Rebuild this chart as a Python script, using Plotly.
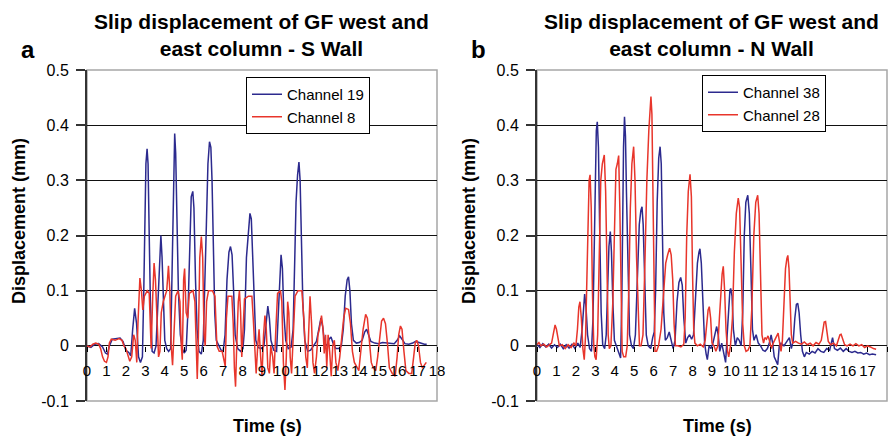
import plotly.graph_objects as go

# ---------------- data (time s, displacement mm) ----------------
time_ticks = list(range(0, 19))
disp_ticks = [-0.1, 0, 0.1, 0.2, 0.3, 0.4, 0.5]
disp_tick_text = ["-0.1", "0", "0.1", "0.2", "0.3", "0.4", "0.5"]

titles = ["Slip displacement of GF west and<br>east column - S Wall",
          "Slip displacement of GF west and<br>east column - N Wall"]
panel_letters = ["a", "b"]
series_names = [["Channel 19", "Channel 8"], ["Channel 38", "Channel 28"]]

# Panel a, Channel 19
ch19 = [(0,0),(0.2,-0.003),(0.4,0.003),(0.6,0.004),(0.8,-0.002),(0.95,-0.013),(1.05,-0.015),(1.15,0.0),
        (1.3,0.012),(1.5,0.013),(1.7,0.014),(1.85,0.008),(2.0,-0.008),(2.15,-0.012),(2.25,-0.018),(2.35,0.03),
        (2.45,0.068),(2.55,0.04),(2.65,-0.02),(2.75,-0.03),(2.85,-0.02),(2.92,0.1),(2.97,0.2),(3.03,0.33),
        (3.09,0.357),(3.14,0.33),(3.2,0.2),(3.26,0.08),(3.35,-0.01),(3.45,-0.013),(3.55,0.0),(3.65,0.08),
        (3.72,0.15),(3.8,0.2),(3.86,0.16),(3.92,0.08),(4.0,0.01),(4.1,-0.005),(4.2,-0.01),(4.3,-0.005),
        (4.36,0.12),(4.41,0.25),(4.47,0.37),(4.51,0.385),(4.56,0.35),(4.62,0.25),(4.7,0.1),(4.8,0.02),
        (4.9,-0.005),(5.0,-0.013),(5.1,-0.008),(5.2,0.07),(5.28,0.2),(5.36,0.27),(5.44,0.28),(5.5,0.25),
        (5.58,0.12),(5.66,0.03),(5.76,-0.01),(5.88,-0.015),(5.98,0.01),(6.06,0.1),(6.14,0.22),(6.22,0.33),
        (6.3,0.37),(6.37,0.36),(6.43,0.3),(6.5,0.18),(6.57,0.06),(6.65,0.01),(6.78,0.0),(6.9,-0.008),
        (7.0,-0.01),(7.1,0.02),(7.2,0.12),(7.3,0.17),(7.38,0.18),(7.46,0.165),(7.54,0.1),(7.62,0.02),
        (7.75,-0.005),(7.9,-0.01),(8.02,-0.005),(8.1,0.03),(8.2,0.16),(8.3,0.21),(8.38,0.24),(8.45,0.23),
        (8.52,0.17),(8.6,0.08),(8.68,0.01),(8.8,-0.003),(8.95,-0.005),(9.1,0.0),(9.2,0.04),(9.3,0.072),
        (9.38,0.05),(9.46,0.01),(9.6,-0.008),(9.75,-0.01),(9.84,0.06),(9.92,0.14),(9.98,0.165),(10.05,0.14),
        (10.12,0.06),(10.22,0.01),(10.35,-0.005),(10.5,-0.002),(10.6,0.03),(10.68,0.15),(10.75,0.26),
        (10.83,0.31),(10.9,0.333),(10.96,0.3),(11.02,0.2),(11.1,0.08),(11.2,0.01),(11.35,-0.01),(11.5,-0.008),
        (11.65,0.0),(11.8,0.008),(11.92,0.03),(12.03,0.05),(12.12,0.035),(12.22,0.005),(12.35,0.0),
        (12.45,0.012),(12.55,0.016),(12.65,0.005),(12.8,-0.005),(12.95,-0.005),(13.08,0.0),(13.18,0.03),
        (13.28,0.09),(13.38,0.12),(13.45,0.125),(13.52,0.1),(13.6,0.04),(13.7,0.01),(13.85,0.005),(14.0,0.006),
        (14.15,0.01),(14.28,0.025),(14.38,0.03),(14.48,0.02),(14.6,0.008),(14.8,0.005),(15.0,0.004),
        (15.2,0.006),(15.4,0.005),(15.6,0.004),(15.8,0.004),(15.95,0.01),(16.08,0.018),(16.2,0.012),
        (16.35,0.004),(16.55,0.003),(16.75,0.005),(16.9,0.008),(17.05,0.006),(17.2,0.004),(17.35,0.003),
        (17.47,0.003)]

# Panel a, Channel 8
ch8 = [(0,0),(0.15,-0.002),(0.3,0.003),(0.45,0.005),(0.6,0.003),(0.7,-0.005),(0.8,-0.02),(0.9,-0.028),
       (1.0,-0.03),(1.08,-0.02),(1.15,0.005),(1.25,0.012),(1.45,0.01),(1.65,0.013),(1.8,0.01),(1.9,0.0),
       (2.0,-0.005),(2.1,-0.015),(2.2,-0.028),(2.3,-0.02),(2.4,0.02),(2.48,0.01),(2.56,-0.03),(2.62,0.04),
       (2.68,0.115),(2.72,0.123),(2.8,0.1),(2.87,0.065),(2.95,0.09),(3.1,0.1),(3.2,0.095),(3.26,0.03),
       (3.3,-0.005),(3.38,0.09),(3.45,0.15),(3.52,0.12),(3.6,0.04),(3.68,-0.02),(3.75,-0.01),(3.82,0.06),
       (3.92,0.08),(4.02,0.09),(4.1,0.1),(4.19,0.145),(4.26,0.1),(4.33,0.0),(4.4,-0.035),(4.47,0.02),
       (4.56,0.09),(4.68,0.1),(4.78,0.08),(4.85,0.0),(4.9,-0.025),(4.97,0.12),(5.02,0.14),(5.1,0.06),
       (5.18,0.05),(5.26,0.095),(5.45,0.1),(5.55,0.08),(5.62,-0.01),(5.67,-0.06),(5.72,0.0),(5.8,0.16),
       (5.88,0.198),(5.95,0.16),(6.02,0.02),(6.08,0.0),(6.15,0.08),(6.25,0.1),(6.45,0.1),(6.58,0.09),
       (6.68,0.0),(6.8,-0.01),(6.95,-0.01),(7.05,-0.03),(7.11,-0.037),(7.17,0.05),(7.25,0.09),(7.45,0.09),
       (7.52,0.04),(7.58,-0.04),(7.64,-0.074),(7.7,0.0),(7.78,0.08),(7.84,0.1),(7.9,0.06),(7.96,-0.02),
       (8.02,0.02),(8.1,0.085),(8.3,0.09),(8.48,0.09),(8.55,0.05),(8.62,-0.005),(8.7,-0.05),(8.78,0.0),
       (8.85,0.03),(8.93,-0.02),(9.0,-0.055),(9.08,0.02),(9.15,0.055),(9.22,0.03),(9.3,-0.04),(9.38,-0.05),
       (9.45,0.0),(9.55,-0.02),(9.62,-0.05),(9.7,0.02),(9.8,0.095),(9.95,0.1),(10.02,0.08),(10.1,-0.03),
       (10.18,-0.08),(10.25,-0.02),(10.32,0.08),(10.38,0.06),(10.45,-0.02),(10.52,-0.05),(10.6,0.02),
       (10.7,0.09),(10.85,0.1),(11.05,0.1),(11.15,0.05),(11.25,-0.02),(11.33,-0.04),(11.4,0.04),(11.47,0.09),
       (11.55,0.04),(11.62,-0.03),(11.7,-0.05),(11.8,-0.02),(11.88,0.02),(11.95,0.03),(12.06,0.055),
       (12.14,0.03),(12.2,-0.014),(12.27,0.02),(12.33,-0.04),(12.4,0.02),(12.48,-0.01),(12.56,-0.055),
       (12.64,0.0),(12.72,0.01),(12.8,-0.03),(12.9,-0.045),(13.0,-0.02),(13.1,0.02),(13.2,0.05),(13.3,0.068),
       (13.45,0.066),(13.55,0.04),(13.65,-0.01),(13.75,-0.03),(13.88,-0.04),(13.98,-0.045),(14.08,-0.01),
       (14.2,0.03),(14.33,0.057),(14.42,0.05),(14.52,0.01),(14.62,-0.03),(14.72,-0.04),(14.85,-0.045),
       (14.95,-0.02),(15.05,0.02),(15.15,0.045),(15.25,0.05),(15.35,0.04),(15.45,0.005),(15.55,-0.04),
       (15.7,-0.05),(15.85,-0.055),(15.95,-0.02),(16.03,0.02),(16.12,0.036),(16.2,0.03),(16.3,-0.01),
       (16.4,-0.045),(16.55,-0.05),(16.7,-0.05),(16.8,-0.02),(16.88,0.005),(16.96,0.01),(17.05,0.0),
       (17.15,-0.03),(17.25,-0.04),(17.35,-0.035),(17.45,-0.03)]

# Panel b, Channel 38
ch38 = [(0,0.003),(0.15,-0.003),(0.3,0.004),(0.45,-0.002),(0.6,0.003),(0.75,-0.004),(0.9,0.002),
        (1.05,-0.003),(1.2,0.003),(1.35,-0.005),(1.5,0.002),(1.65,-0.004),(1.8,0.003),(1.95,-0.005),
        (2.1,0.005),(2.22,-0.003),(2.32,0.03),(2.4,0.08),(2.45,0.094),(2.52,0.07),(2.6,0.02),(2.7,-0.005),
        (2.8,-0.01),(2.88,0.05),(2.95,0.2),(3.0,0.32),(3.05,0.39),(3.1,0.406),(3.16,0.36),(3.22,0.22),
        (3.3,0.06),(3.38,0.002),(3.48,-0.005),(3.56,0.02),(3.63,0.1),(3.7,0.18),(3.77,0.207),(3.83,0.17),
        (3.9,0.08),(3.98,0.01),(4.08,0.0),(4.18,-0.01),(4.3,-0.022),(4.36,0.08),(4.41,0.25),(4.45,0.36),
        (4.5,0.415),(4.55,0.38),(4.6,0.28),(4.68,0.12),(4.76,0.02),(4.86,0.0),(4.96,-0.005),(5.06,0.02),
        (5.16,0.13),(5.26,0.22),(5.34,0.245),(5.4,0.252),(5.46,0.22),(5.54,0.12),(5.62,0.02),(5.72,0.0),
        (5.85,-0.005),(5.95,0.015),(6.03,0.025),(6.1,0.1),(6.18,0.26),(6.26,0.34),(6.33,0.361),(6.39,0.33),
        (6.45,0.2),(6.52,0.06),(6.6,0.01),(6.7,0.015),(6.8,0.025),(6.9,0.01),(7.0,-0.005),(7.1,0.01),
        (7.2,0.08),(7.3,0.115),(7.39,0.124),(7.47,0.11),(7.55,0.05),(7.65,0.005),(7.75,0.015),(7.85,0.02),
        (7.95,0.012),(8.05,0.02),(8.15,0.09),(8.25,0.15),(8.33,0.17),(8.38,0.176),(8.45,0.15),(8.53,0.07),
        (8.62,0.005),(8.7,-0.015),(8.76,-0.025),(8.85,0.0),(8.95,-0.005),(9.05,0.005),(9.15,0.02),
        (9.24,0.035),(9.32,0.02),(9.4,-0.01),(9.5,0.005),(9.6,-0.01),(9.7,-0.03),(9.78,0.02),(9.86,0.08),
        (9.92,0.1),(9.96,0.104),(10.03,0.09),(10.1,0.03),(10.2,0.0),(10.3,0.015),(10.4,0.01),(10.5,0.0),
        (10.58,0.06),(10.66,0.2),(10.74,0.26),(10.84,0.273),(10.92,0.24),(11.0,0.14),(11.08,0.03),
        (11.16,0.01),(11.27,0.02),(11.38,0.005),(11.5,0.0),(11.62,-0.008),(11.73,-0.01),(11.85,-0.005),
        (11.95,0.005),(12.04,0.02),(12.12,0.005),(12.2,-0.02),(12.3,-0.03),(12.38,-0.034),(12.46,0.0),
        (12.55,0.005),(12.7,0.0),(12.85,0.008),(12.98,0.015),(13.08,-0.005),(13.18,0.01),(13.26,0.05),
        (13.34,0.075),(13.41,0.077),(13.48,0.06),(13.56,0.02),(13.65,-0.01),(13.75,-0.02),(13.85,-0.012),
        (14.0,-0.015),(14.15,-0.01),(14.3,-0.013),(14.45,-0.005),(14.6,-0.01),(14.75,-0.012),(14.9,-0.005),
        (15.05,-0.008),(15.2,0.015),(15.3,-0.005),(15.45,-0.008),(15.6,-0.004),(15.75,-0.01),(15.9,-0.005),
        (16.05,-0.01),(16.2,-0.012),(16.35,-0.01),(16.5,-0.013),(16.65,-0.012),(16.8,-0.015),(16.95,-0.013),
        (17.1,-0.016),(17.25,-0.015),(17.44,-0.016)]

# Panel b, Channel 28
ch28 = [(0,0.002),(0.1,0.006),(0.2,0.0),(0.35,0.003),(0.5,-0.002),(0.65,0.002),(0.75,0.005),(0.83,0.02),
        (0.93,0.038),(1.0,0.03),(1.08,0.01),(1.15,0.0),(1.3,0.002),(1.45,-0.005),(1.6,0.002),(1.75,-0.003),
        (1.9,0.005),(2.0,0.0),(2.08,0.03),(2.15,0.07),(2.21,0.08),(2.28,0.05),(2.36,-0.005),(2.43,-0.025),
        (2.5,0.02),(2.56,0.13),(2.62,0.25),(2.68,0.3),(2.73,0.31),(2.79,0.25),(2.85,0.1),(2.92,0.0),
        (2.98,-0.02),(3.04,-0.025),(3.12,0.02),(3.2,0.15),(3.28,0.3),(3.36,0.33),(3.46,0.346),(3.53,0.28),
        (3.6,0.12),(3.66,0.02),(3.72,-0.005),(3.8,0.0),(3.9,0.08),(3.98,0.22),(4.06,0.32),(4.13,0.33),
        (4.2,0.345),(4.26,0.25),(4.32,0.07),(4.38,-0.01),(4.46,-0.02),(4.56,-0.02),(4.64,0.0),(4.72,0.1),
        (4.8,0.25),(4.88,0.33),(4.97,0.361),(5.04,0.3),(5.12,0.16),(5.2,0.05),(5.27,0.0),(5.35,0.0),
        (5.45,0.02),(5.55,0.15),(5.65,0.3),(5.75,0.39),(5.81,0.42),(5.86,0.452),(5.91,0.42),(5.96,0.26),
        (6.02,0.04),(6.07,-0.01),(6.15,-0.01),(6.25,0.0),(6.38,0.03),(6.5,0.1),(6.62,0.15),(6.72,0.165),
        (6.82,0.177),(6.9,0.165),(6.98,0.12),(7.05,0.04),(7.12,0.0),(7.25,0.0),(7.4,-0.002),(7.55,0.003),
        (7.62,0.05),(7.7,0.2),(7.78,0.28),(7.87,0.311),(7.94,0.27),(8.0,0.13),(8.06,0.03),(8.12,0.005),
        (8.25,0.0),(8.4,0.003),(8.55,-0.002),(8.65,0.01),(8.72,0.04),(8.8,0.065),(8.86,0.071),(8.93,0.05),
        (9.0,0.005),(9.1,0.0),(9.2,-0.01),(9.3,0.0),(9.38,0.05),(9.46,0.11),(9.52,0.13),(9.58,0.144),
        (9.65,0.1),(9.72,0.03),(9.8,-0.01),(9.86,-0.02),(9.95,0.0),(10.05,0.05),(10.15,0.17),(10.25,0.24),
        (10.35,0.268),(10.42,0.25),(10.5,0.15),(10.58,0.04),(10.66,0.0),(10.75,-0.01),(10.85,-0.008),
        (10.95,0.0),(11.05,0.07),(11.15,0.2),(11.25,0.26),(11.35,0.273),(11.42,0.24),(11.5,0.12),
        (11.57,0.02),(11.65,0.005),(11.72,0.015),(11.8,0.012),(11.88,0.018),(11.95,0.01),(12.05,-0.005),
        (12.15,0.005),(12.28,0.015),(12.4,0.023),(12.48,0.005),(12.55,-0.01),(12.62,0.01),(12.7,0.08),
        (12.78,0.14),(12.85,0.158),(12.9,0.164),(12.96,0.14),(13.02,0.08),(13.08,0.02),(13.15,0.005),
        (13.3,0.008),(13.45,0.005),(13.6,0.003),(13.75,0.007),(13.9,0.002),(14.05,0.005),(14.2,0.0),
        (14.35,0.006),(14.5,0.003),(14.62,0.01),(14.7,0.03),(14.77,0.043),(14.84,0.044),(14.9,0.03),
        (14.98,0.008),(15.1,0.002),(15.25,0.005),(15.4,0.0),(15.5,0.01),(15.58,0.02),(15.64,0.021),
        (15.72,0.012),(15.82,0.002),(15.95,0.0),(16.1,0.003),(16.25,0.0),(16.4,0.004),(16.55,0.0),
        (16.7,0.002),(16.85,-0.003),(17.0,0.0),(17.15,-0.002),(17.3,-0.005),(17.44,-0.006)]

panels = [[ch19, ch8], [ch38, ch28]]

# ---------------- styling ----------------
W, H = 895, 436
FONT = "Liberation Sans, Arial, sans-serif"
BLUE = "#2c2a8e"
RED = "#e8352b"
colors = [BLUE, RED]

# plot areas in pixels: (left, right, top, bottom)
areas = [(87, 437, 70, 401), (537, 887, 70, 401)]

def px_x(x):
    return x / W

def px_y(y):
    return 1 - y / H

fig = go.Figure()
for p, series in enumerate(panels):
    xa = "x" if p == 0 else "x2"
    ya = "y" if p == 0 else "y2"
    lg = "legend" if p == 0 else "legend2"
    for s, data in enumerate(series):
        t = [d[0] for d in data]
        v = [d[1] for d in data]
        fig.add_trace(go.Scatter(x=t, y=v, mode="lines", name=series_names[p][s],
                                 line=dict(color=colors[s], width=1.5),
                                 xaxis=xa, yaxis=ya, legend=lg))

layout = dict(width=W, height=H, margin=dict(l=0, r=0, t=0, b=0, autoexpand=False),
              paper_bgcolor="white", plot_bgcolor="white",
              font=dict(family=FONT, color="black", size=15), showlegend=True)

annotations = []
shapes = []
for p, (l, r, t, b) in enumerate(areas):
    sfx = "" if p == 0 else "2"
    ydom = [px_y(b), px_y(t)]
    zero_pos = ydom[0] + (ydom[1] - ydom[0]) * (0.1 / 0.6)
    layout["xaxis" + sfx] = dict(domain=[px_x(l), px_x(r)], range=[0, 18], tickvals=time_ticks,
                                 anchor="free", position=zero_pos, showline=False, showgrid=False,
                                 zeroline=False, ticks="outside", ticklen=5, tickcolor="black",
                                 tickfont=dict(size=15, family=FONT), ticklabelstandoff=6,
                                 automargin=False, fixedrange=True)
    layout["yaxis" + sfx] = dict(domain=ydom, range=[-0.1, 0.5], tickvals=disp_ticks,
                                 ticktext=disp_tick_text, showgrid=True, gridcolor="#111111",
                                 gridwidth=1.2, zeroline=True, zerolinecolor="#111111",
                                 zerolinewidth=1.4, showline=True, linecolor="#333333", linewidth=2,
                                 ticks="outside", ticklen=9, tickcolor="#333333", tickwidth=1.5,
                                 tickfont=dict(size=16, family=FONT), ticklabelstandoff=4,
                                 anchor="x" + sfx, automargin=False, fixedrange=True)
    shapes.append(dict(type="rect", xref="x" + sfx + " domain", yref="y" + sfx + " domain",
                       x0=0, x1=1, y0=0, y1=1, line=dict(color="#a6a6a6", width=1.5), layer="below"))
    cx = 261 if p == 0 else 711
    annotations.append(dict(text="<b>" + titles[p] + "</b>", xref="paper", yref="paper",
                            x=px_x(cx), y=px_y(35), xanchor="center",
                            yanchor="middle", showarrow=False, font=dict(size=21, family=FONT)))
    annotations.append(dict(text="<b>" + panel_letters[p] + "</b>", xref="paper", yref="paper",
                            x=px_x(28 if p == 0 else 478), y=px_y(49), xanchor="center",
                            yanchor="middle", showarrow=False, font=dict(size=24, family=FONT)))
    annotations.append(dict(text="<b>Displacement (mm)</b>", xref="paper", yref="paper",
                            x=px_x(19 if p == 0 else 469), y=px_y(221), xanchor="center",
                            yanchor="middle", textangle=-90, showarrow=False,
                            font=dict(size=18, family=FONT)))
    annotations.append(dict(text="<b>Time (s)</b>", xref="paper", yref="paper",
                            x=px_x(267 if p == 0 else 717), y=px_y(426), xanchor="center",
                            yanchor="middle", showarrow=False, font=dict(size=18, family=FONT)))

legend_pos = [(246, 77), (702, 75)]
for p, (lx, ly) in enumerate(legend_pos):
    key = "legend" if p == 0 else "legend2"
    layout[key] = dict(x=px_x(lx), y=px_y(ly), xanchor="left", yanchor="top",
                       bordercolor="black", borderwidth=1, bgcolor="white",
                       font=dict(size=15, family=FONT), itemwidth=30, tracegroupgap=0)

layout["annotations"] = annotations
layout["shapes"] = shapes
fig.update_layout(**layout)
# remove the default page margin so the 895x436 figure fills the window exactly
fig.write_html("out.html", config={"displayModeBar": False},
               post_script="document.body.style.margin='0';")
